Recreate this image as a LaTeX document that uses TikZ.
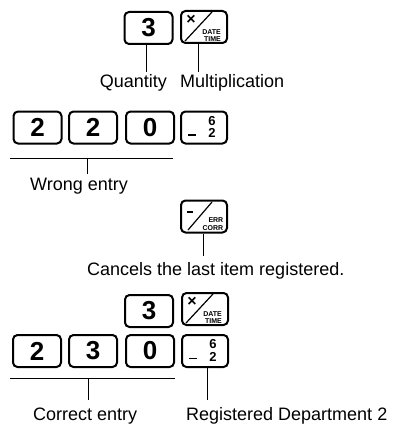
\documentclass[tikz,border=0pt]{standalone}
\usepackage{fontspec}
\setmainfont{Liberation Sans}
\usetikzlibrary{calc}
\begin{document}
\begin{tikzpicture}[x=1pt,y=-1pt,
  keybox/.style={draw, line width=2pt, rounded corners=4.5pt, minimum width=48pt, minimum height=32pt, inner sep=0pt, font=\fontsize{26}{26}\selectfont\bfseries},
  fkey/.style={keybox, minimum width=46pt},
  lbl/.style={inner sep=0pt, font=\fontsize{18}{20}\selectfont},
  conn/.style={line width=1pt},
  tinytxt/.style={inner sep=0pt, font=\fontsize{7}{7}\selectfont\bfseries},
  digsmall/.style={inner sep=0pt, font=\fontsize{13}{13}\selectfont\bfseries},
  multface/.pic={
    \draw[line width=1.2pt] (-19,14) -- (8,-15);
    \node[inner sep=0pt, font=\fontsize{16}{16}\selectfont\bfseries] at (-13,-7) {×};
    \node[tinytxt, anchor=east] at (17,5) {DATE};
    \node[tinytxt, anchor=east] at (17,12.5) {TIME};
  },
  errface/.pic={
    \draw[line width=1.6pt] (-17,-4.5) -- (-11,-4.5);
    \draw[line width=1.2pt] (-16,13.5) -- (8,-14.5);
    \node[tinytxt, anchor=east] at (19.5,4) {ERR};
    \node[tinytxt, anchor=east] at (19.5,11.5) {CORR};
  },
  deptface/.pic={
    \draw[line width=1.6pt] (-16,7.5) -- (-8,7.5);
    \node[digsmall] at (8,-6.5) {6};
    \node[digsmall] at (8,5.5) {2};
  }
]
\useasboundingbox (0,0) rectangle (397,428);

% --- top: quantity x multiplication
\node[keybox] (q3) at (148.5,28) {3};
\node[fkey] (qm) at (204,27) {};
\pic at (qm.center) {multface};
\node[lbl, anchor=base east] (qlab) at (167,88) {Quantity};
\node[lbl, anchor=base west] (mlab) at (180,88) {Multiplication};
\coordinate (qe) at (146,72);
\coordinate (me) at (198,72);
\draw[conn] (q3.south -| qe) -- (qe);
\draw[conn] (qm.south -| me) -- (me);

% --- wrong entry
\node[keybox] (w1) at (37.5,127.5) {2};
\node[keybox] (w2) at (93,127.5) {2};
\node[keybox] (w3) at (150,127.5) {0};
\node[fkey] (wd) at (204,127.5) {};
\pic at (wd.center) {deptface};
\coordinate (wl) at (10,158);
\coordinate (wr) at (173,158);
\coordinate (wt) at (87,158);
\coordinate (wb) at (87,174);
\draw[conn] (wl) -- (wr);
\draw[conn] (wt) -- (wb);
\node[lbl, anchor=base west] (wlab) at (30,190) {Wrong entry};

% --- error correction
\node[fkey] (ec) at (204,216.5) {};
\pic at (ec.center) {errface};
\coordinate (ee) at (203,256);
\draw[conn] (ec.south -| ee) -- (ee);
\node[lbl, anchor=base west] (elab) at (87,275) {Cancels the last item registered.};

% --- correct entry
\node[keybox] (c3) at (149,311) {3};
\node[fkey] (cm) at (205,309) {};
\pic at (cm.center) {multface};
\node[keybox] (r1) at (37,351) {2};
\node[keybox] (r2) at (93,351) {3};
\node[keybox] (r3) at (150,351) {0};
\node[fkey] (rd) at (205,351) {};
\pic at (rd.center) {deptface};
\coordinate (cl) at (10,378);
\coordinate (cr) at (175,378);
\coordinate (ct) at (88,378);
\coordinate (cb) at (88,400);
\draw[conn] (cl) -- (cr);
\draw[conn] (ct) -- (cb);
\coordinate (de) at (207,400);
\draw[conn] (rd.south -| de) -- (de);
\node[lbl, anchor=base west] (clab) at (33,420) {Correct entry};
\node[lbl, anchor=base west] (dlab) at (186,420) {Registered Department 2};
\end{tikzpicture}
\end{document}
